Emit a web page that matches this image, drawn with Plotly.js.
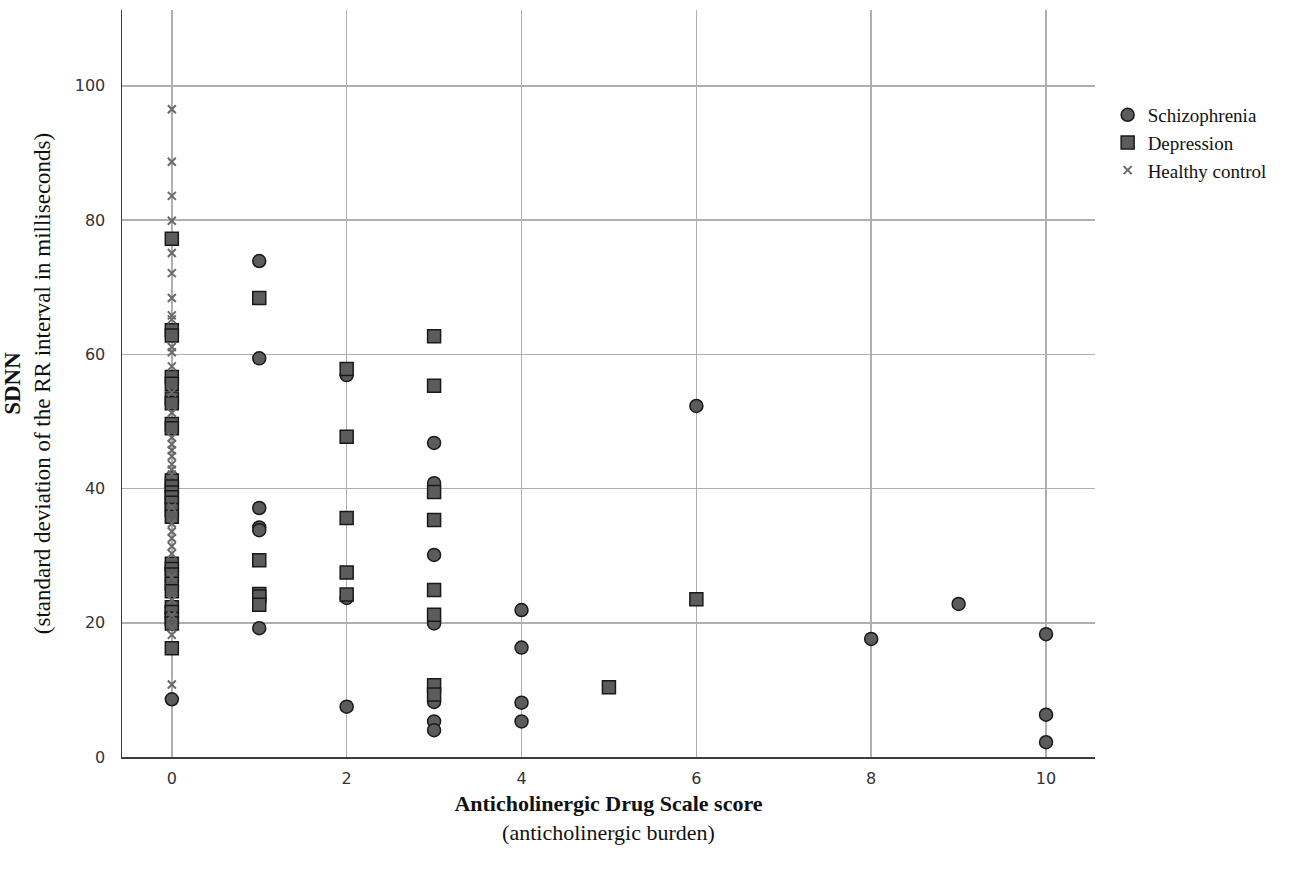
<!DOCTYPE html>
<html>
<head>
<meta charset="utf-8">
<script src="https://cdn.plot.ly/plotly-3.0.1.min.js"></script>
<style>html,body{margin:0;padding:0;background:#fff;}#chart{width:1291px;height:870px;}</style>
</head>
<body>
<div id="chart"></div>
<script>
// Schizophrenia (circles)
const schizoX = [0,0,0,0,0,0,0,0, 1,1,1,1,1,1, 2,2,2, 3,3,3,3,3,3,3, 4,4,4,4, 6, 8, 9, 10,10,10];
const schizoY = [8.6,41.6,40.8,38.0,28.2,26.0,22.4,21.4, 73.9,59.4,37.1,34.2,33.8,19.2, 56.9,23.7,7.5, 46.8,40.8,30.1,19.9,8.2,5.3,4.0, 21.9,16.3,8.1,5.3, 52.3, 17.6, 22.8, 18.3,6.3,2.2];

// Depression (squares)
const depX = [0,0,0,0,0,0,0,0,0,0,0,0,0,0,0,0,0,0,0,0,0,0,0,0,0,0, 1,1,1,1,1, 2,2,2,2,2, 3,3,3,3,3,3,3,3, 5, 6];
const depY = [77.2,63.6,62.8,56.6,55.6,53.4,52.7,49.6,49.0,41.2,40.3,39.4,38.7,37.9,36.8,35.8,28.8,28.0,27.2,25.8,24.7,22.3,21.6,20.6,19.9,16.2,
              68.4,29.3,24.3,23.9,22.7, 57.8,47.7,35.6,27.5,24.2, 62.7,55.3,39.5,35.3,24.9,21.2,10.7,9.3, 10.4, 23.5];

// Healthy control (crosses)
const hcY = [96.5,88.7,83.6,79.9,75.1,72.1,68.4,65.8,65.2,61.1,60.3,58.2,54.3,51.3,47.6,46.6,45.7,44.8,43.6,42.8,42.1,37.2,34.8,33.6,32.6,31.4,30.3,26.8,23.4,21.1,19.2,18.2,10.8];
const hcX = hcY.map(() => 0);

const xTicks = [0,2,4,6,8,10];
const yTicks = [0,20,40,60,80,100];
const seriesNames = ['Schizophrenia','Depression','Healthy control'];

const fillCol = 'rgb(92,92,92)';
const edgeCol = 'rgb(25,25,25)';
const serif = 'Liberation Serif, Times New Roman, serif';

const traces = [
  {x: schizoX, y: schizoY, type:'scatter', mode:'markers', name: seriesNames[0],
   marker:{symbol:'circle', size:13, color:fillCol, line:{color:edgeCol, width:1.5}}},
  {x: depX, y: depY, type:'scatter', mode:'markers', name: seriesNames[1],
   marker:{symbol:'square', size:13, color:fillCol, line:{color:edgeCol, width:1.5}}},
  {x: hcX, y: hcY, type:'scatter', mode:'markers', name: seriesNames[2],
   marker:{symbol:'x-thin', size:8, color:'rgb(105,105,105)', line:{color:'rgb(105,105,105)', width:2}}}
];

const layout = {
  width:1291, height:870,
  paper_bgcolor:'#fff', plot_bgcolor:'#fff',
  margin:{l:122, r:196, t:10, b:113},
  showlegend:true,
  legend:{x:1.013, y:0.885, xanchor:'left', yanchor:'top', font:{family:serif, size:19, color:'#111'},
          bgcolor:'rgba(0,0,0,0)', tracegroupgap:0, itemsizing:'trace'},
  xaxis:{
    range:[-0.57,10.56], tickvals:xTicks, ticktext:xTicks.map(String),
    showgrid:true, gridcolor:'rgb(175,175,175)', gridwidth:1.5, zeroline:false,
    showline:true, linecolor:'rgb(60,60,60)', linewidth:1.5, ticks:'', ticklen:0,
    ticklabelstandoff:6,
    tickfont:{family:'DejaVu Sans, Verdana, sans-serif', size:16, color:'#333'},
    title:{text:'<b>Anticholinergic Drug Scale score</b><br>(anticholinergic burden)', standoff:9,
           font:{family:serif, size:22, color:'#111'}}
  },
  yaxis:{
    range:[0,111.3], tickvals:yTicks, ticktext:yTicks.map(String),
    showgrid:true, gridcolor:'rgb(175,175,175)', gridwidth:1.5, zeroline:false,
    showline:true, linecolor:'rgb(60,60,60)', linewidth:1.5, ticks:'', ticklen:0,
    ticklabelstandoff:12,
    tickfont:{family:'DejaVu Sans, Verdana, sans-serif', size:16, color:'#333'},
    title:{text:'<b>SDNN</b><br>(standard deviation of the RR interval in milliseconds)', standoff:18,
           font:{family:serif, size:23, color:'#111'}}
  }
};

Plotly.newPlot('chart', traces, layout, {displayModeBar:false, staticPlot:true});
</script>
</body>
</html>
